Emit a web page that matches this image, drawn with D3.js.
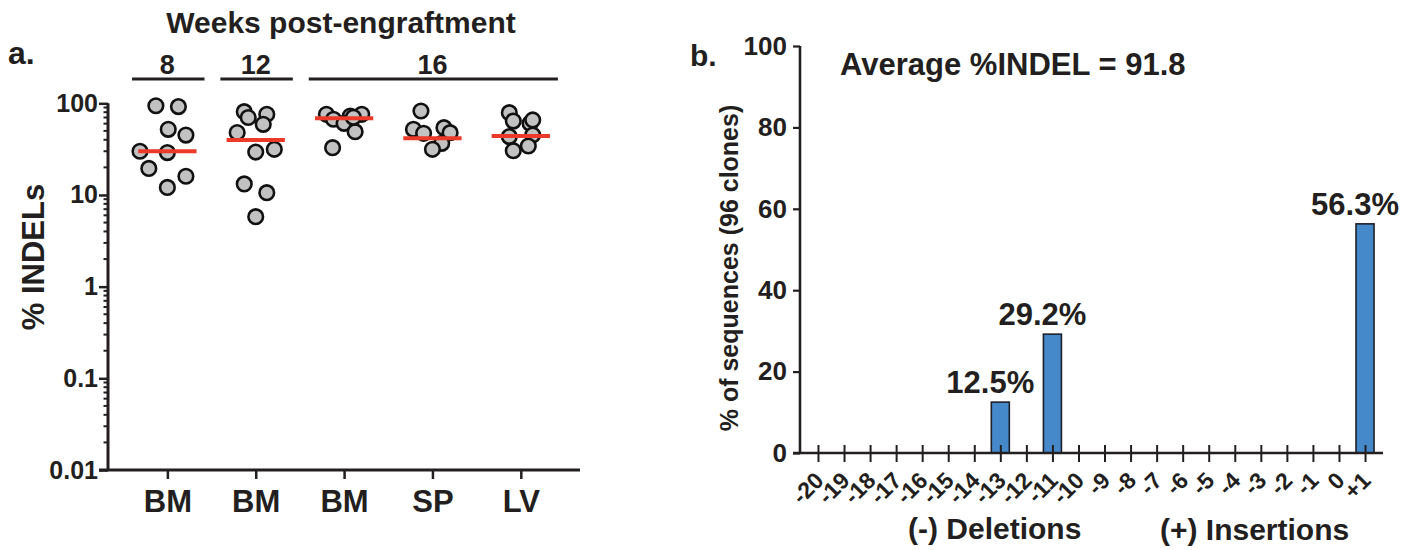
<!DOCTYPE html>
<html>
<head>
<meta charset="utf-8">
<script src="https://cdn.jsdelivr.net/npm/d3@7"></script>
<style>
  body { margin: 0; background: #fff; }
  text { font-family: "Liberation Sans", Arial, sans-serif; font-weight: bold; fill: #231f20; }
</style>
</head>
<body>
<svg id="chart" width="1416" height="550"></svg>
<script>
// ---- panel a: %INDELs per tissue ----
const tissues = ["BM", "BM", "BM", "SP", "LV"];
const weekLabels = ["8", "12", "16"];
const weekSpans = [[0, 0], [1, 1], [2, 4]];   // which tissue columns each week covers
const indelValues = [
  [94, 92, 52, 45, 30, 29, 19.5, 16, 12.1],
  [81, 70, 76, 59, 48, 29.4, 31.5, 13.2, 10.6, 5.8],
  [75.9, 67, 72.7, 75.9, 60.5, 49, 32.8, 70.3],
  [82.4, 52, 47.1, 54.2, 47.8, 36.6, 31.5],
  [79, 64, 60.5, 65.8, 43.3, 45.1, 34.2, 30.4]
];
// horizontal scatter of each dot, in column units
const jitter = [
  [-0.13, 0.125, 0.01, 0.21, -0.31, 0, -0.21, 0.21, 0],
  [-0.13, -0.085, 0.125, 0.085, -0.21, 0, 0.21, -0.13, 0.125, 0],
  [-0.2, -0.12, 0.07, 0.2, 0, 0.125, -0.13, 0.105],
  [-0.13, -0.215, -0.1, 0.13, 0.2, 0.105, 0],
  [-0.13, -0.085, 0.105, 0.135, -0.13, 0.135, 0.085, -0.085]
];
const medians = [30, 39.8, 68.5, 41.5, 44];
const logTicks = [0.01, 0.1, 1, 10, 100];

// ---- panel b: indel size distribution ----
const indelSizes = ["-20", "-19", "-18", "-17", "-16", "-15", "-14", "-13", "-12", "-11", "-10",
  "-9", "-8", "-7", "-6", "-5", "-4", "-3", "-2", "-1", "0", "+1"];
const seqPercent = [0, 0, 0, 0, 0, 0, 0, 12.5, 0, 29.2, 0, 0, 0, 0, 0, 0, 0, 0, 0, 0, 0, 56.3];
const pctTicks = [0, 20, 40, 60, 80, 100];
const averageIndel = 91.8;

const svg = d3.select("#chart");
const ink = "#231f20";

// ================= panel a =================
const xa = d3.scaleLinear().domain([-0.672, 4.67]).range([108, 580]);
const ya = d3.scaleLog().domain([0.01, 100]).range([470, 103.3]);

const ga = svg.append("g");

// minor log ticks
const minor = ya.ticks().filter(d => !logTicks.includes(d));
ga.selectAll(".minor").data(minor).join("line")
    .attr("x1", xa.range()[0] - 4.5).attr("x2", xa.range()[0])
    .attr("y1", d => ya(d)).attr("y2", d => ya(d))
    .attr("stroke", ink).attr("stroke-width", 2);

const yAxisA = ga.append("g")
    .attr("transform", `translate(${xa.range()[0]},0)`)
    .call(d3.axisLeft(ya).tickValues(logTicks).tickFormat(d => String(d)).tickSize(9).tickPadding(1));
yAxisA.select(".domain").attr("stroke", ink).attr("stroke-width", 3).attr("d", `M0,${ya(100)}V${ya(0.01)}`);
yAxisA.selectAll(".tick line").attr("stroke", ink).attr("stroke-width", 2.5);
yAxisA.selectAll(".tick text").attr("font-size", 25).attr("fill", ink).attr("font-family", null);

// x axis
const xAxisA = ga.append("g")
    .attr("transform", `translate(0,${ya(0.01)})`)
    .call(d3.axisBottom(xa).tickValues(d3.range(tissues.length)).tickFormat(i => tissues[i]).tickSize(9).tickPadding(11));
xAxisA.select(".domain").attr("stroke", ink).attr("stroke-width", 3).attr("d", `M${xa.range()[0] - 9},0H${xa.range()[1]}`);
xAxisA.selectAll(".tick line").attr("stroke", ink).attr("stroke-width", 2.5);
xAxisA.selectAll(".tick text").attr("font-size", 31).attr("fill", ink).attr("font-family", null);

// dots
indelValues.forEach((vals, i) => {
  ga.append("g").selectAll("circle").data(vals).join("circle")
      .attr("cx", (d, j) => xa(i + jitter[i][j]))
      .attr("cy", d => ya(d))
      .attr("r", 7.3)
      .attr("fill", "#c2c2c2")
      .attr("stroke", "#111")
      .attr("stroke-width", 2.6);
});

// median bars
ga.selectAll(".median").data(medians).join("line")
    .attr("x1", (d, i) => xa(i - 0.33)).attr("x2", (d, i) => xa(i + 0.33))
    .attr("y1", d => ya(d)).attr("y2", d => ya(d))
    .attr("stroke", "#ec3a2a").attr("stroke-width", 4);

// week brackets
ga.selectAll(".wk").data(weekSpans).join("line")
    .attr("x1", d => xa(d[0] - 0.4)).attr("x2", d => xa(d[1] + 0.42))
    .attr("y1", 79).attr("y2", 79)
    .attr("stroke", ink).attr("stroke-width", 3);
ga.selectAll(".wklab").data(weekSpans).join("text")
    .attr("x", d => xa((d[0] + d[1]) / 2))
    .attr("y", 74)
    .attr("text-anchor", "middle")
    .attr("font-size", 27)
    .text((d, i) => weekLabels[i]);

ga.append("text").attr("x", 341).attr("y", 33).attr("text-anchor", "middle")
    .attr("font-size", 30).text("Weeks post-engraftment");
ga.append("text").attr("x", 8).attr("y", 64).attr("font-size", 32).text("a.");
ga.append("text")
    .attr("transform", "translate(44,257) rotate(-90)")
    .attr("text-anchor", "middle").attr("font-size", 31).text("% INDELs");

// ================= panel b =================
const xb = d3.scalePoint().domain(indelSizes).range([800, 1383]).padding(0.69);
const yb = d3.scaleLinear().domain([0, 100]).range([453, 46]);
const gb = svg.append("g");

const yAxisB = gb.append("g")
    .attr("transform", `translate(${xb.range()[0]},0)`)
    .call(d3.axisLeft(yb).tickValues(pctTicks).tickSize(7).tickPadding(6));
yAxisB.select(".domain").attr("stroke", ink).attr("stroke-width", 2.6).attr("d", `M0,${yb(100)}V${yb(0)}`);
yAxisB.selectAll(".tick line").attr("stroke", ink).attr("stroke-width", 2.2);
yAxisB.selectAll(".tick text").attr("font-size", 26).attr("fill", ink).attr("font-family", null);

// bars
const barW = 18;
const barData = seqPercent.map((v, i) => ({size: indelSizes[i], v})).filter(d => d.v > 0);
gb.selectAll(".bar").data(barData).join("rect")
    .attr("x", d => xb(d.size) - barW / 2)
    .attr("y", d => yb(d.v))
    .attr("width", barW)
    .attr("height", d => yb(0) - yb(d.v))
    .attr("fill", "#4689cb")
    .attr("stroke", "#1c1f2a")
    .attr("stroke-width", 1.6);

const xAxisB = gb.append("g")
    .attr("transform", `translate(0,${yb(0)})`)
    .call(d3.axisBottom(xb).tickSize(9).tickFormat(""));
xAxisB.select(".domain").attr("stroke", ink).attr("stroke-width", 2.6).attr("d", `M${xb.range()[0] - 7},0H${xb.range()[1]}`);
xAxisB.selectAll(".tick line").attr("stroke", ink).attr("stroke-width", 2).attr("y1", -8);

gb.selectAll(".xlab").data(indelSizes).join("text")
    .attr("transform", d => `translate(${xb(d) + 7},482) rotate(-45)`)
    .attr("text-anchor", "end")
    .attr("font-size", 23)
    .text(d => d);

// bar value labels
gb.selectAll(".val").data(barData).join("text")
    .attr("x", d => xb(d.size) - 10)
    .attr("y", d => yb(d.v) - 9)
    .attr("text-anchor", "middle")
    .attr("font-size", 31)
    .text(d => d3.format(".1f")(d.v) + "%");

gb.append("text").attr("x", 690).attr("y", 66).attr("font-size", 30).text("b.");
gb.append("text").attr("x", 840).attr("y", 75).attr("font-size", 31).text(`Average %INDEL = ${averageIndel}`);
gb.append("text")
    .attr("transform", "translate(738,268) rotate(-90)")
    .attr("text-anchor", "middle").attr("font-size", 25).text("% of sequences (96 clones)");
gb.append("text").attr("x", 908).attr("y", 539).attr("font-size", 30).text("(-) Deletions");
gb.append("text").attr("x", 1160).attr("y", 540).attr("font-size", 30).text("(+) Insertions");
</script>
</body>
</html>
